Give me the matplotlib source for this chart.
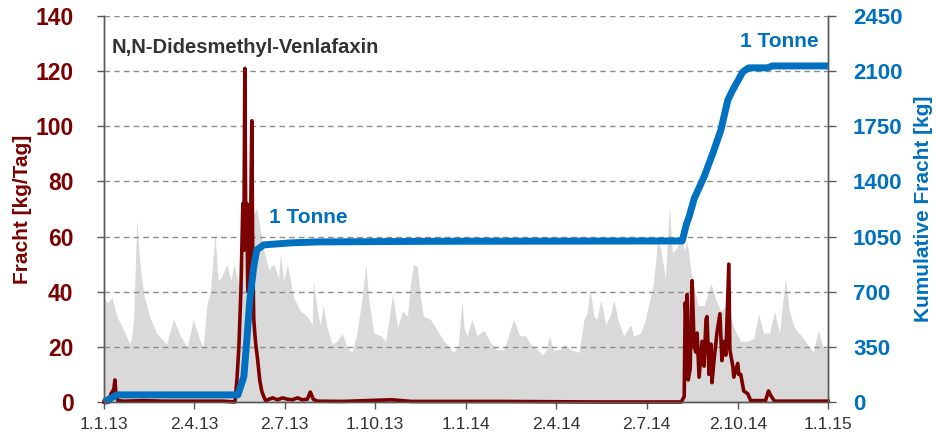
import numpy as np
import matplotlib
matplotlib.use("Agg")
import matplotlib.pyplot as plt

plt.rcParams["font.family"] = ["Liberation Sans", "DejaVu Sans"]

# ── DATA (day 0 = 1.1.13) ────────────────────────────────────────────────────
# grey background (hydrograph-like area), read in left-axis units
grey_days = [0, 1, 4, 8, 13, 20, 26, 28, 30, 33, 36, 40, 46, 53, 63, 70, 77, 84,
             90, 97, 100, 104, 107, 112, 115, 118, 124, 128, 131, 134, 137, 141,
             147, 154, 161, 166, 171, 176, 178, 181, 185, 191, 198, 205, 210, 211,
             215, 218, 221, 225, 230, 235, 240, 245, 250, 255, 260, 264, 267, 272,
             279, 284, 291, 296, 301, 306, 309, 312, 316, 319, 322, 329, 336, 343,
             348, 352, 357, 361, 363, 366, 371, 376, 383, 389, 396, 403, 406, 413,
             419, 425, 430, 437, 442, 446, 449, 453, 460, 465, 470, 479, 484, 487,
             490, 494, 497, 501, 506, 511, 514, 518, 524, 531, 534, 541, 546, 554,
             558, 561, 566, 570, 573, 578, 582, 585, 588, 592, 595, 599, 605, 612,
             617, 622, 628, 635, 642, 649, 655, 660, 665, 671, 676, 681, 687, 691,
             696, 703, 709, 715, 720, 725, 730]
grey_vals = [38, 37, 36, 38, 31, 26, 21, 24, 31, 66, 51, 39, 31, 25, 21, 30, 24, 20,
             30, 22, 20, 36, 39, 61, 44, 45, 50, 44, 50, 45, 41, 55,
             66, 70, 55, 48, 50, 45, 54, 44, 50, 38, 33, 31, 28, 44,
             33, 28, 35, 27, 21, 22, 25, 20, 18, 25, 37, 50, 37, 25,
             24, 22, 39, 27, 33, 31, 43, 50, 49, 38, 31, 30, 26, 22,
             20, 18, 20, 37, 27, 24, 30, 24, 26, 22, 19, 19, 22, 30,
             24, 24, 21, 19, 17, 19, 24, 19, 19, 21, 19, 18, 30, 32,
             41, 31, 30, 37, 28, 32, 37, 30, 24, 28, 24, 25, 30, 43,
             58, 56, 45, 71, 54, 56, 61, 55, 58, 47, 41, 35, 35, 43,
             37, 33, 35, 27, 22, 22, 23, 32, 25, 25, 33, 25, 45, 33,
             27, 24, 21, 18, 26, 20, 19]

# daily load [kg/Tag]
load_days = [0, 5, 7, 9, 10, 11, 12, 14, 20, 40, 60, 80, 100, 120, 132, 134, 136,
             138, 140, 141, 142, 143, 144, 145, 146, 147, 148, 149, 150, 151, 152,
             153, 155, 157, 159, 161, 163, 170, 175, 180, 185, 190, 195, 200, 205,
             208, 211, 215, 240, 290, 300, 310, 400, 500, 582, 585, 586, 587, 588,
             589, 590, 591, 593, 595, 597, 598, 600, 603, 605, 607, 608, 610, 612,
             613, 615, 618, 621, 623, 625, 627, 630, 631, 634, 635, 639, 640, 642,
             645, 649, 652, 667, 670, 672, 676, 730]
load_vals = [0, 0, 3, 4, 5, 8, 3, 0.5, 0.3, 0.5, 0.3, 0.3, 0.3, 0.3, 0, 8, 20,
             40, 72, 55, 121, 60, 72, 40, 65, 45, 70, 102, 50, 30, 25,
             21, 15, 8, 4, 2, 0.5, 1.5, 0.8, 1.5, 1, 0.8, 1.5, 0.8, 1,
             3.6, 1, 0.3, 0.2, 0.8, 0.5, 0.2, 0.2, 0, 0, 2, 36, 30, 39,
             8, 10, 12, 44, 20, 18, 25, 9, 22, 13, 30, 31, 10, 21,
             7, 15, 25, 32, 15, 22, 17, 50, 19, 13, 9, 14, 10, 10,
             4, 3, 0.5, 0.5, 4, 2.5, 0.3, 0.3]

# cumulative load [kg]
cum_days = [0, 13, 135, 141, 144, 147, 151, 154, 161, 188, 215, 330, 583, 587,
            590, 595, 605, 614, 622, 629, 634, 644, 650, 669, 674, 730]
cum_vals = [0, 45, 45, 161, 394, 648, 859, 965, 997, 1010, 1016, 1020, 1022, 1124,
            1177, 1290, 1429, 1581, 1727, 1917, 1981, 2095, 2121, 2121, 2133, 2133]

tick_days = [0, 91, 182, 273, 365, 456, 547, 639, 730]
tick_labels = ["1.1.13", "2.4.13", "2.7.13", "1.10.13", "1.1.14",
               "2.4.14", "2.7.14", "2.10.14", "1.1.15"]

RED = "#7B0000"
BLUE = "#0070C0"

# ── PLOT ─────────────────────────────────────────────────────────────────────
fig = plt.figure(figsize=(9.37, 4.4), dpi=100)
ax = fig.add_axes([0.111, 0.0864, 0.7727, 0.8772])
ax2 = ax.twinx()

ax.fill_between(grey_days, grey_vals, 0, color="#D9D9D9", lw=0, zorder=1)
ax.plot(load_days, load_vals, color=RED, lw=2.6, zorder=3, clip_on=False,
        solid_joinstyle="round")
ax2.plot(cum_days, cum_vals, color=BLUE, lw=5, solid_capstyle="butt",
         solid_joinstyle="round", clip_on=False)

ax.set_xlim(0, 730)
ax.set_ylim(0, 140)
ax2.set_ylim(0, 2450)
ax.set_yticks(np.arange(0, 141, 20))
ax2.set_yticks(np.arange(0, 2451, 350))
ax.set_xticks(tick_days)
ax.set_xticklabels(tick_labels)

ax.set_axisbelow(False)
ax.yaxis.grid(True, ls=(0, (4, 3)), color="#8C8C8C", lw=1.0, zorder=2)

for a in (ax, ax2):
    a.spines["top"].set_visible(False)
    for s in ("left", "right", "bottom"):
        a.spines[s].set_color("#595959")
        a.spines[s].set_linewidth(1.0)

ax.tick_params(axis="y", colors="#595959", labelcolor=RED, labelsize=16.5,
               length=5, width=1, pad=17)
ax2.tick_params(axis="y", colors="#595959", labelcolor=BLUE, labelsize=16,
                length=6, width=1, pad=12)
ax.tick_params(axis="x", colors="#595959", labelcolor="#333333", labelsize=12.5,
               length=5, width=1, pad=6)
for lab in ax.get_yticklabels() + ax2.get_yticklabels():
    lab.set_fontweight("bold")

ax.set_ylabel("Fracht [kg/Tag]", color=RED, fontsize=15, fontweight="bold")
ax.yaxis.set_label_coords(-0.099, 0.5)
ax2.set_ylabel("Kumulative Fracht [kg]", color=BLUE, fontsize=15,
               fontweight="bold")
ax2.yaxis.set_label_coords(1.119, 0.5)

ax.text(8, 128.5, "N,N-Didesmethyl-Venlafaxin", color="#333333", fontsize=14.5,
        fontweight="bold", ha="left", va="center")
ax2.text(166, 1168, "1 Tonne", color=BLUE, fontsize=15, fontweight="bold",
         ha="left", va="center")
ax2.text(641, 2286, "1 Tonne", color=BLUE, fontsize=15, fontweight="bold",
         ha="left", va="center")

fig.savefig("out.png", dpi=100)
